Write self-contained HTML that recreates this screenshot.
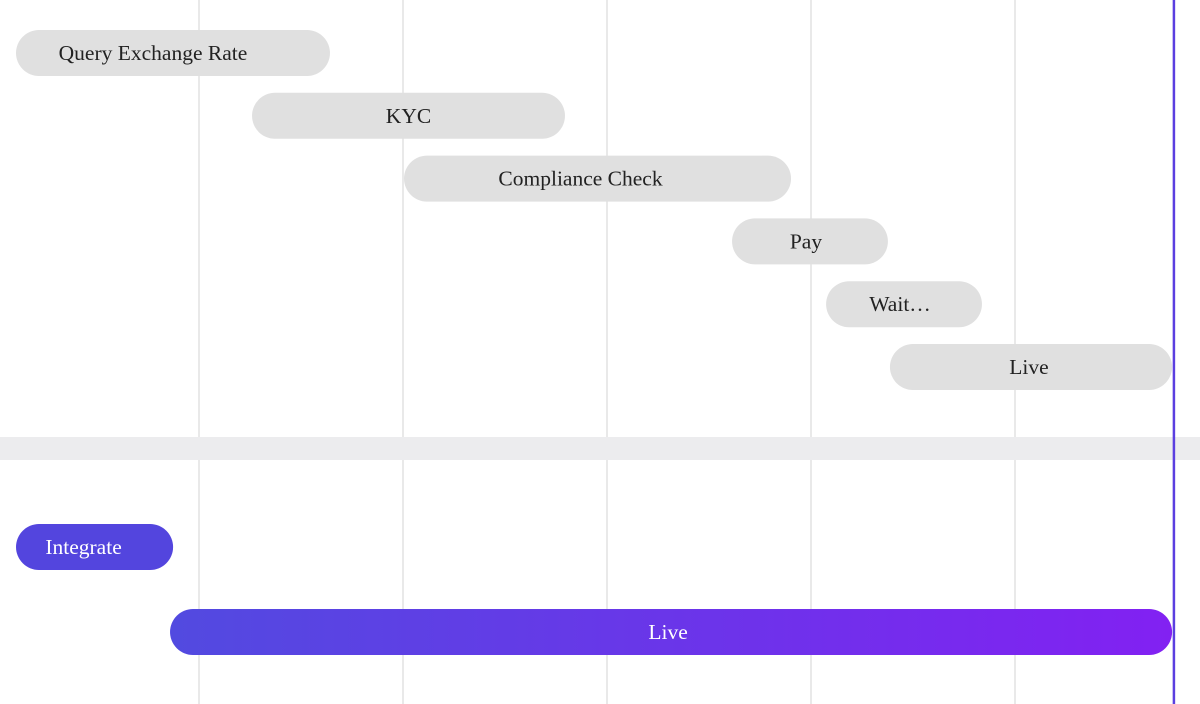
<!DOCTYPE html>
<html><head><meta charset="utf-8"><style>
html,body{margin:0;padding:0;background:#fff;width:1200px;height:704px;overflow:hidden}
svg{display:block}
text{font-family:"Liberation Serif",serif;font-size:21.5px}
</style></head><body>
<svg id="chart" width="1200" height="704" viewBox="0 0 1200 704" xmlns="http://www.w3.org/2000/svg">
<defs>
<linearGradient id="g" x1="0" x2="1" y1="0" y2="0"><stop offset="0" stop-color="#524ae0"/><stop offset="1" stop-color="#8221f2"/></linearGradient>
</defs>
<g id="grid"></g>
<rect x="0" y="437" width="1200" height="23" fill="#ececee"/>
<g id="bars"></g>
<g id="now"></g>
</svg>
<script>
const topLabels=["Query Exchange Rate","KYC","Compliance Check","Pay","Wait…","Live"];
const topStarts=[0.103,1.260,2.005,3.613,4.074,4.387];
const topEnds=[1.642,2.794,3.902,4.377,4.838,5.770];
const botLabels=["Integrate","Live"];
const botStarts=[0.103,0.858];
const botEnds=[0.873,5.770];
const gridTicks=[1,2,3,4,5];
const nowValue=5.779;
const NS="http://www.w3.org/2000/svg";
const topDx=[-20,0,-17,-4,-4,-2];
const botDx=[-11,-3];
function x(t){return -5+204*t;}
function topY(i){return 53+62.8*i;}
function botY(i){return 547+85*i;}
function mk(tag,attrs,parent){const e=document.createElementNS(NS,tag);for(const k in attrs)e.setAttribute(k,attrs[k]);parent.appendChild(e);return e;}
const grid=document.getElementById('grid');
gridTicks.forEach(t=>{
  const l=mk('line',{x1:x(t),x2:x(t),y1:0,y2:704,stroke:'#e2e2e2','stroke-width':1.5},grid);
  
  
});
const bars=document.getElementById('bars');
function bar(label,s,e,cy,fill,color,name,dx){
  const g=mk('g',{},bars);
  
  
  mk('rect',{x:x(s),y:cy-23,width:x(e)-x(s),height:46,rx:23,fill:fill},g);
  const t=mk('text',{x:(x(s)+x(e))/2+dx,y:cy+7,'text-anchor':'middle',fill:color},g);
  t.textContent=label;
}
topLabels.forEach((l,i)=>bar(l,topStarts[i],topEnds[i],topY(i),'#e0e0e0','#222','task-bar-'+l.toLowerCase().replace(/[^a-z]+/g,'-'),topDx[i]));
botLabels.forEach((l,i)=>bar(l,botStarts[i],botEnds[i],botY(i),i===0?'#5345de':'url(#g)','#fff','phase-bar-'+l.toLowerCase(),botDx[i]));
const now=document.getElementById('now');
const nl=mk('line',{x1:x(nowValue),x2:x(nowValue),y1:0,y2:704,stroke:'#5b3fe0','stroke-width':2.5},now);


</script>
</body></html>
